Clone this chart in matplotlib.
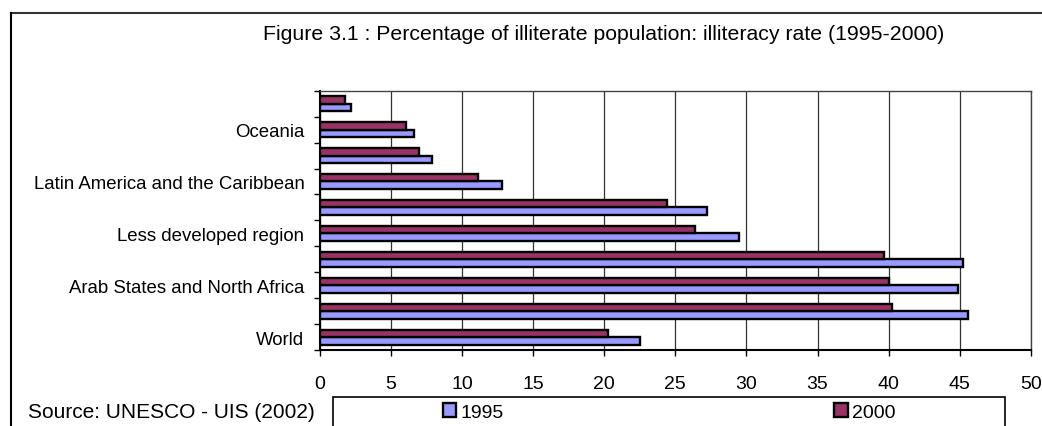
import matplotlib
matplotlib.use("Agg")
from matplotlib import pyplot as plt
from matplotlib.lines import Line2D
from matplotlib.patches import Rectangle
import numpy as np

plt.rcParams['font.family'] = ['Liberation Sans', 'DejaVu Sans']

# categories from bottom to top; only every other one is labelled in the original
labels = ["World", "", "Arab States and North Africa", "", "Less developed region",
          "", "Latin America and the Caribbean", "", "Oceania", ""]
rate_1995 = [22.5, 45.6, 44.9, 45.2, 29.5, 27.2, 12.8, 7.9, 6.6, 2.2]
rate_2000 = [20.3, 40.2, 40.0, 39.7, 26.4, 24.4, 11.1, 7.0, 6.1, 1.8]
years = ["1995", "2000"]
colours = ["#9999FF", "#993366"]

fig = plt.figure(figsize=(10.42, 4.27), dpi=100)
ax = fig.add_axes([0.3068, 0.178, 0.6826, 0.6072])

y = np.arange(len(labels))
h = 0.29
b1 = ax.barh(y - h / 2, rate_1995, height=h, color=colours[0], edgecolor="black",
             linewidth=1.7, label=years[0], zorder=3)
b2 = ax.barh(y + h / 2, rate_2000, height=h, color=colours[1], edgecolor="black",
             linewidth=1.7, label=years[1], zorder=3)

ax.set_xlim(0, 50)
ax.set_ylim(-0.5, len(labels) - 0.5)
ax.set_xticks(np.arange(0, 51, 5))
ax.xaxis.grid(True, color="#333333", linewidth=0.9, zorder=0)
ax.tick_params(axis="x", direction="out", length=4, width=1, pad=14, labelsize=14)

# tick marks between categories, labels at the centres
ax.set_yticks(np.arange(-0.5, len(labels), 1))
ax.set_yticklabels([])
ax.set_yticks(y, minor=True)
ax.set_yticklabels(labels, minor=True)
ax.tick_params(axis="y", which="major", direction="out", length=4, width=1)
ax.tick_params(axis="y", which="minor", length=0, pad=11, labelsize=13.4)

for s in ["left", "bottom"]:
    ax.spines[s].set_linewidth(1.5)
    ax.spines[s].set_color("black")
for s in ["top", "right"]:
    ax.spines[s].set_linewidth(1.0)
    ax.spines[s].set_color("#444444")

# outer frame (cropped on the right and bottom)
fig.add_artist(Line2D([0.0103, 1.0], [0.9672, 0.9672], color="#333333", linewidth=1.5))
fig.add_artist(Line2D([0.0103, 0.0103], [0.0, 0.9672], color="black", linewidth=1.5))

fig.text(0.2524, 0.9063, "Figure 3.1 : Percentage of illiterate population: illiteracy rate (1995-2000)",
         fontsize=15.3, ha="left", va="baseline")
fig.text(0.0269, 0.0328, "Source: UNESCO - UIS (2002)", fontsize=15, ha="left", va="center")

# legend box, cut by the lower edge
fig.add_artist(Rectangle((333 / 1042, -0.05), (1005 - 333) / 1042, 0.05 + 1 - 398 / 427,
                         transform=fig.transFigure, fill=False, edgecolor="black", linewidth=1.2))
fig.legend(handles=[b1, b2], loc="center", bbox_to_anchor=(669 / 1042, 1 - 413 / 427),
           ncol=2, frameon=False, fontsize=14, handlelength=0.7, handleheight=0.7,
           handletextpad=0.2, columnspacing=17, borderpad=0)

fig.savefig("out.png", dpi=100)
